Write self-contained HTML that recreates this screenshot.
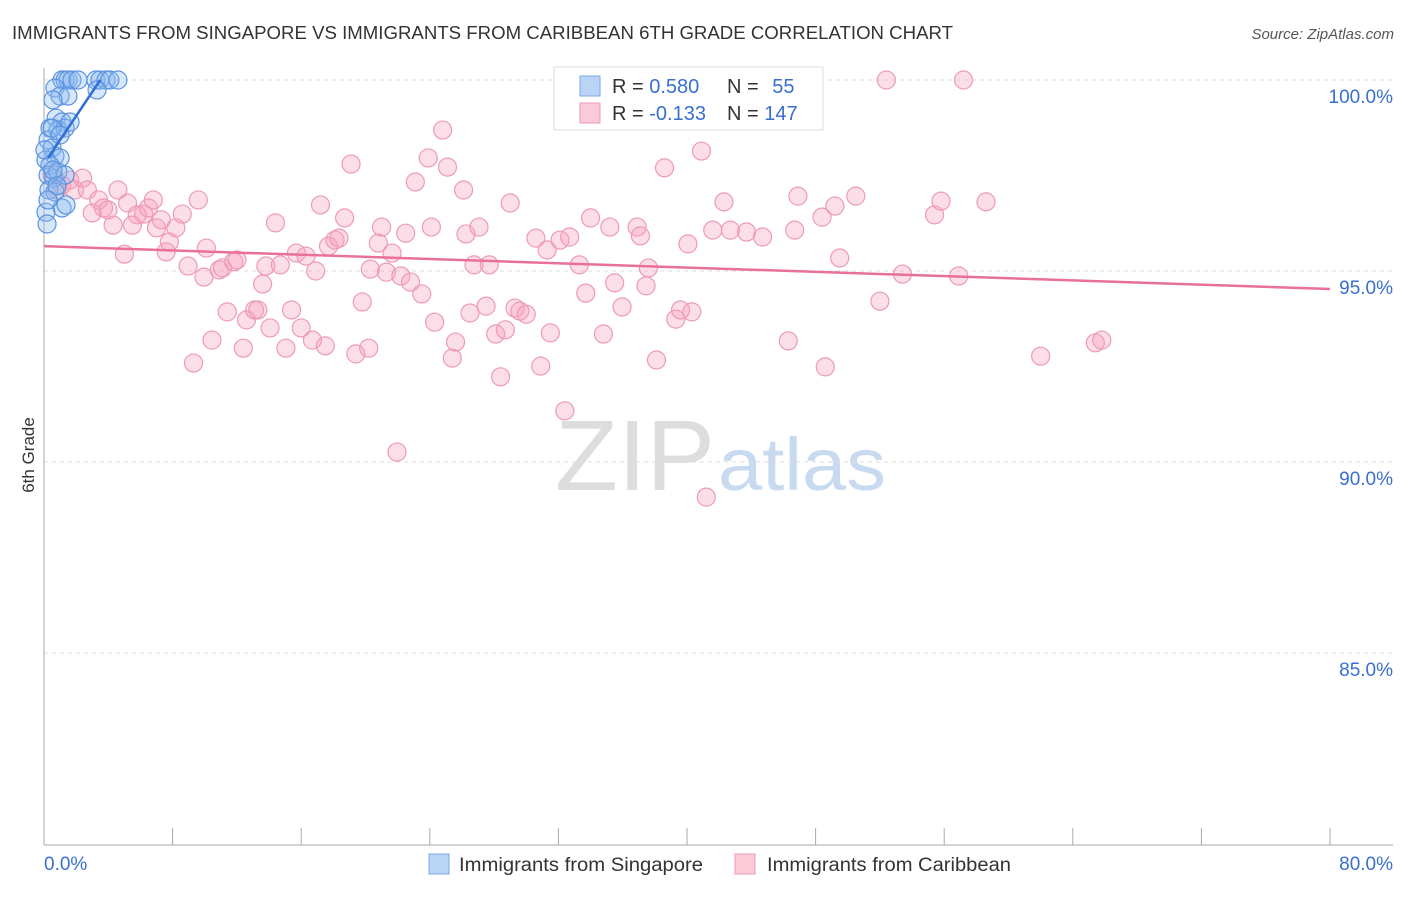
<!DOCTYPE html>
<html><head><meta charset="utf-8"><style>
body{margin:0;background:#fff;font-family:"Liberation Sans",sans-serif}
svg text{font-family:"Liberation Sans",sans-serif}
</style></head><body>
<svg id="c" width="1406" height="892" xmlns="http://www.w3.org/2000/svg">
<text x="12" y="39" font-size="18" fill="#333" textLength="941" lengthAdjust="spacingAndGlyphs">IMMIGRANTS FROM SINGAPORE VS IMMIGRANTS FROM CARIBBEAN 6TH GRADE CORRELATION CHART</text>
<text x="1394" y="39" font-size="15" fill="#555" text-anchor="end" font-style="italic">Source: ZipAtlas.com</text>
<text x="555" y="490" font-size="100" fill="#ddd" textLength="160" lengthAdjust="spacingAndGlyphs" font-family="Liberation Serif">ZIP</text>
<text x="718" y="490" font-size="74" fill="#c8daf0" textLength="168" lengthAdjust="spacingAndGlyphs">atlas</text>
<text x="34" y="455" font-size="17" fill="#333" text-anchor="middle" transform="rotate(-90 34 455)">6th Grade</text>
<g id="grid"></g><g id="pts"></g><g id="trend"></g>
<g>
<rect x="554" y="67" width="269" height="63" fill="#fff" stroke="#ddd"/>
<rect x="580" y="76" width="20" height="20" fill="#b9d4f5" stroke="#7aa7e6"/>
<rect x="580" y="103" width="20" height="20" fill="#fbc9d8" stroke="#ee9ab5"/>
<text x="612" y="93" font-size="20" fill="#333">R = <tspan fill="#3a6fd0">0.580</tspan></text>
<text x="727" y="93" font-size="20" fill="#333">N = <tspan fill="#3a6fd0" dx="8">55</tspan></text>
<text x="612" y="120" font-size="20" fill="#333">R = <tspan fill="#3a6fd0">-0.133</tspan></text>
<text x="727" y="120" font-size="20" fill="#333">N = <tspan fill="#3a6fd0">147</tspan></text>
</g>
<g>
<rect x="429" y="854" width="20" height="20" fill="#b9d4f5" stroke="#7aa7e6"/>
<text x="459" y="871" font-size="19" fill="#333" textLength="244" lengthAdjust="spacingAndGlyphs">Immigrants from Singapore</text>
<rect x="735" y="854" width="20" height="20" fill="#fbc9d8" stroke="#ee9ab5"/>
<text x="767" y="871" font-size="19" fill="#333" textLength="244" lengthAdjust="spacingAndGlyphs">Immigrants from Caribbean</text>
</g>
</svg>
<script>
const yTicks=[100,95,90,85];
const yTickLabels=["100.0%","95.0%","90.0%","85.0%"];
const xTickLabels=["0.0%","80.0%"];
const pinkX=[0.5,0.8,1.1,1.6,1.9,2.4,2.7,3.0,3.4,3.7,3.98,4.3,4.6,5.0,5.2,5.5,5.8,6.2,6.5,6.8,7.0,7.3,7.6,7.8,8.2,8.6,8.96,9.3,9.6,10.1,9.95,10.45,10.9,11.1,11.4,11.8,12.0,12.4,12.6,13.1,13.3,13.6,13.8,14.06,14.4,14.7,15.05,15.4,15.7,16.0,16.3,16.7,16.9,17.2,17.5,17.7,18.1,18.35,18.7,19.1,19.4,19.8,20.2,20.3,20.8,21.0,21.3,21.65,21.96,22.2,22.5,22.8,23.1,23.5,23.9,24.1,24.3,24.8,25.1,25.4,25.6,26.1,26.25,26.5,26.75,27.06,27.5,27.7,28.1,28.4,28.7,29.0,29.3,29.6,30.0,30.6,30.9,31.3,31.5,32.1,32.4,32.7,33.3,33.7,34.0,34.8,35.2,35.5,35.96,36.9,37.1,37.45,37.6,38.1,38.6,39.3,39.6,40.06,40.3,40.9,41.2,41.6,42.3,42.7,43.7,44.7,46.3,46.7,46.9,48.4,48.6,49.2,49.5,50.5,52.0,52.4,53.4,55.4,55.8,56.9,57.2,58.6,62.0,65.4,65.8];
const pinkY=[97.51,97.12,97.25,97.38,97.12,97.43,97.12,96.52,96.86,96.65,96.6,96.2,97.12,95.44,96.78,96.2,96.47,96.49,96.65,96.86,96.13,96.34,95.5,95.76,96.13,96.49,95.13,92.59,96.86,95.6,94.84,93.19,95.03,95.08,93.93,95.24,95.29,92.98,93.72,93.98,93.98,94.66,95.13,93.51,96.26,95.16,92.98,93.98,95.47,93.51,95.39,93.19,95.0,96.73,93.04,95.65,95.81,95.86,96.39,97.8,92.83,94.19,92.98,95.05,95.73,96.15,94.97,95.47,90.26,94.87,95.99,94.71,97.33,94.4,97.96,96.15,93.66,98.69,97.72,92.72,93.14,97.12,95.97,93.9,95.16,96.15,94.08,95.16,93.35,92.23,93.46,96.78,94.03,93.95,93.87,95.86,92.51,95.55,93.38,95.81,91.34,95.89,95.16,94.42,96.39,93.35,96.15,94.69,94.06,96.15,95.92,94.61,95.08,92.67,97.7,93.74,93.98,95.71,93.93,98.14,89.08,96.07,96.81,96.07,96.02,95.89,93.17,96.07,96.96,96.41,92.49,96.7,95.34,96.96,94.21,100,94.92,96.47,96.83,94.87,100,96.81,92.77,93.12,93.19];
const blueX=[1.12,1.31,1.49,1.74,2.12,3.23,3.48,3.86,4.1,4.6,3.3,0.68,1.0,1.49,0.56,0.75,1.12,0.37,0.87,1.31,1.62,0.25,0.5,0.68,1.0,0.12,0.37,0.25,0.62,0.87,1.31,0.31,0.68,1.12,1.37,0.12,0.19,0.5,1.0,0.06,0.56,0.81,0.25];
const blueY=[100,100,100,100,100,100,100,100,100,100,99.74,99.79,99.58,99.58,99.48,99.0,98.9,98.74,98.69,98.74,98.9,98.43,98.22,98.01,97.96,97.91,97.77,97.51,97.43,97.59,97.51,97.12,97.07,96.65,96.73,96.54,96.23,98.74,98.56,98.17,97.64,97.23,96.86];
const pinkTrend=[[0,95.65],[80,94.53]];
const blueTrend=[[0.25,97.96],[3.5,100]];
const NS="http://www.w3.org/2000/svg";
const X=v=>44+v/80*1286, Y=v=>80+(100-v)*38.2;
function mk(t,a,p){const e=document.createElementNS(NS,t);for(const k in a)e.setAttribute(k,a[k]);p.appendChild(e);return e;}
const grid=document.getElementById('grid');
yTicks.forEach((t,i)=>{
 const l=mk('line',{x1:44,x2:1393,y1:Y(t),y2:Y(t),stroke:'#ddd','stroke-dasharray':'4,4'},grid);
 
 
 const tx=mk('text',{x:1393,y:Y(t)+23,'font-size':19,fill:'#3a6fd0','text-anchor':'end'},grid);
 tx.textContent=yTickLabels[i];
 
 
});
const ax=mk('line',{x1:44,x2:1393,y1:845,y2:845,stroke:'#aaa'},grid);


const ay=mk('line',{x1:44,x2:44,y1:68,y2:845,stroke:'#aaa'},grid);


for(let i=0;i<=10;i++){const t=mk('line',{x1:X(i*8),x2:X(i*8),y1:828,y2:845,stroke:'#aaa'},grid);
 
 }
[[0,'start',44],[1,'end',1393]].forEach(([i,a,x])=>{const t=mk('text',{x:x,y:870,'font-size':19,fill:'#3a6fd0','text-anchor':a},grid);t.textContent=xTickLabels[i];
 
 });
const pts=document.getElementById('pts');
pinkX.forEach((v,i)=>{const c=mk('circle',{cx:X(v),cy:Y(pinkY[i]),r:9,fill:'rgba(246,160,190,0.35)',stroke:'#ee9ab5','stroke-width':1.2},pts);
 
 });
blueX.forEach((v,i)=>{const c=mk('circle',{cx:X(v),cy:Y(blueY[i]),r:9,fill:'rgba(140,185,240,0.35)',stroke:'#5b93e0','stroke-width':1.2},pts);
 
 });
const tr=document.getElementById('trend');
const p=mk('line',{x1:X(pinkTrend[0][0]),y1:Y(pinkTrend[0][1]),x2:X(pinkTrend[1][0]),y2:Y(pinkTrend[1][1]),stroke:'#e8709a','stroke-width':2.5},tr);


const b=mk('line',{x1:X(blueTrend[0][0]),y1:Y(blueTrend[0][1]),x2:X(blueTrend[1][0]),y2:Y(blueTrend[1][1]),stroke:'#2f6fd6','stroke-width':2.5},tr);


</script>
</body></html>
